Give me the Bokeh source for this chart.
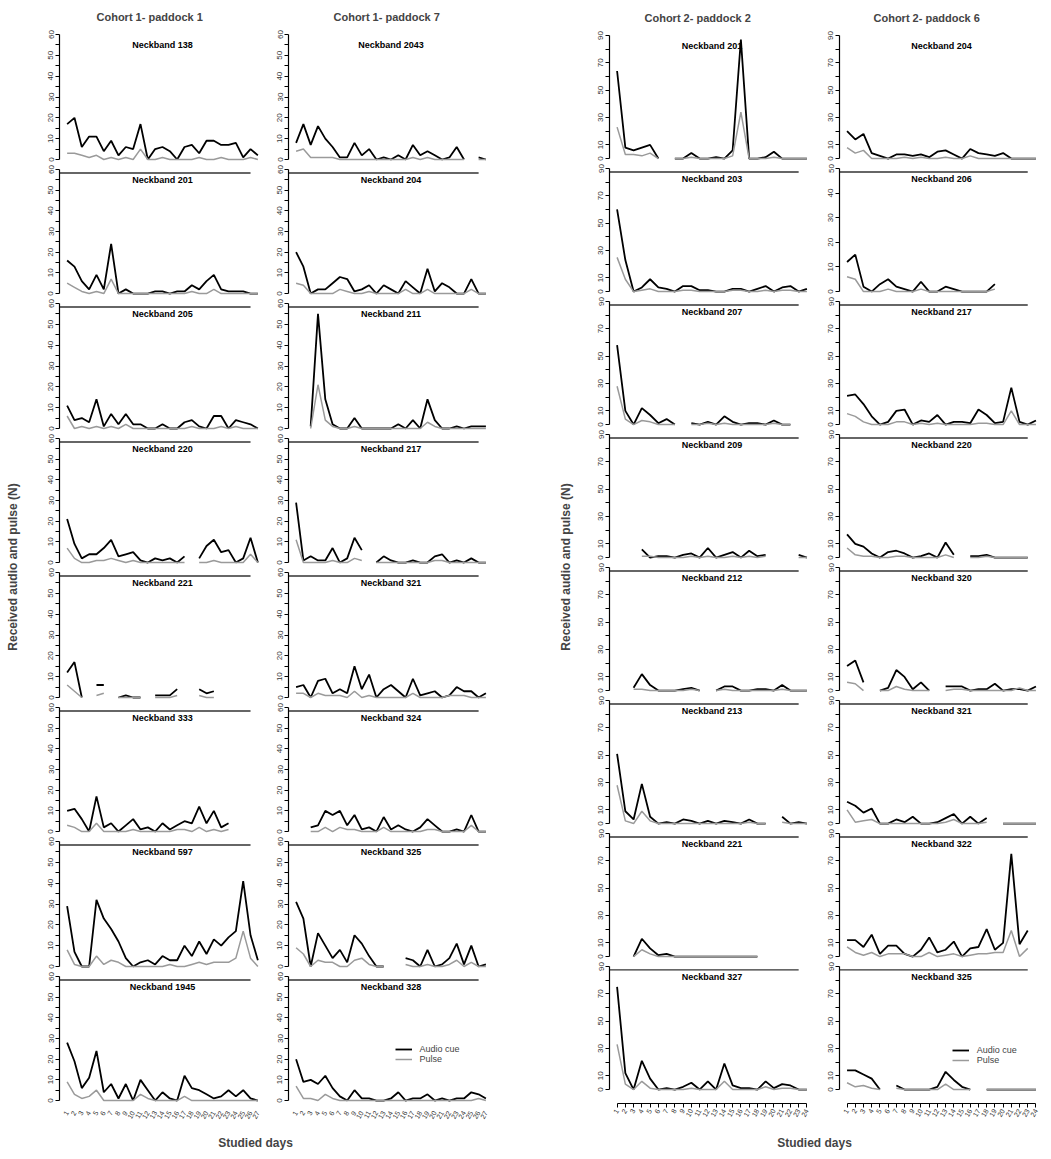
import math
from bokeh.plotting import figure
from bokeh.layouts import row, column
from bokeh.models import Range1d, FixedTicker, Legend, LegendItem, Title, Spacer
from bokeh.core.properties import value
from bokeh.embed import file_html
from bokeh.resources import INLINE

nan = float("nan")
FONT = "Liberation Sans"

# ---------------- data ----------------
days_c1 = list(range(1, 28))
days_c2 = list(range(1, 25))
xlabels_c1 = [str(d) for d in days_c1]
xlabels_c2 = [str(d) for d in days_c2]

# Cohort 1 - paddock 1
nb138_a = [17,20,6,11,11,4,9,2,6,5,17,0,5,6,4,0,6,7,3,9,9,7,7,8,1,5,2]
nb138_p = [3,3,2,1,2,0,1,0,1,0,5,0,0,1,0,0,0,0,1,0,0,1,0,0,0,1,0]
nb201_a = [16,13,6,2,9,2,24,0,2,0,0,0,1,1,0,1,1,4,2,6,9,2,1,1,1,0,0]
nb201_p = [5,3,1,0,1,0,7,0,0,0,0,0,0,0,0,0,0,1,0,0,2,0,0,0,0,0,0]
nb205_a = [11,4,5,3,14,1,7,2,7,2,2,0,0,2,0,0,3,4,1,0,6,6,0,4,3,2,0]
nb205_p = [6,0,1,0,1,0,1,0,2,0,0,0,0,0,0,0,0,1,0,0,0,1,0,1,0,0,0]
nb220_a = [21,9,2,4,4,7,11,3,4,5,1,0,2,1,2,0,3,nan,2,8,11,5,6,0,2,12,0]
nb220_p = [7,2,0,0,1,1,2,1,0,1,0,0,0,0,0,0,0,nan,0,0,1,0,0,0,0,4,0]
nb221_a = [12,17,0,nan,6,6,nan,0,1,0,0,nan,1,1,1,4,nan,nan,4,2,3,nan,nan,nan,nan,nan,nan]
nb221_p = [6,3,0,nan,1,2,nan,0,0,0,0,nan,0,0,0,1,nan,nan,1,0,0,nan,nan,nan,nan,nan,nan]
nb333_a = [10,11,6,0,17,2,4,0,3,6,1,2,0,4,1,3,5,4,12,4,10,2,4,nan,nan,nan,nan]
nb333_p = [3,2,0,0,4,0,0,0,0,1,0,0,0,0,0,1,1,0,2,0,1,0,1,nan,nan,nan,nan]
nb597_a = [29,7,0,0,32,23,18,12,4,0,2,3,1,5,3,3,10,5,12,6,13,10,14,17,41,15,3]
nb597_p = [8,1,0,0,5,1,3,2,0,0,0,0,0,0,1,0,0,1,2,1,2,2,2,4,17,4,0]
nb1945_a = [28,19,6,11,24,4,8,1,8,0,10,5,0,4,1,0,12,6,5,3,1,2,5,2,5,1,0]
nb1945_p = [9,3,1,2,5,0,0,0,0,0,3,1,0,0,0,0,2,0,0,0,0,0,0,0,0,0,0]

# Cohort 1 - paddock 7
nb2043_a = [8,17,7,16,10,6,1,1,8,2,5,0,1,0,2,0,7,2,4,2,0,1,6,0,nan,1,0]
nb2043_p = [4,5,1,1,1,1,0,0,0,0,0,0,0,0,0,0,1,0,1,0,0,0,0,0,nan,0,0]
nb204_a = [20,13,0,2,2,5,8,7,1,2,4,0,4,2,0,6,3,0,12,1,5,3,0,0,7,0,0]
nb204_p = [5,4,0,0,0,0,2,1,0,0,1,0,0,0,0,2,0,0,2,0,0,0,0,0,2,0,0]
nb211_a = [nan,nan,1,55,14,2,0,0,5,0,0,0,0,0,2,0,4,0,14,4,0,0,1,0,1,1,1]
nb211_p = [nan,nan,0,21,4,1,0,0,1,0,0,0,0,0,0,0,0,0,3,1,0,0,0,0,0,0,0]
nb217_a = [29,1,3,1,1,7,0,2,12,6,nan,0,3,1,0,0,1,0,0,3,4,0,1,0,2,0,0]
nb217_p = [11,0,0,0,0,1,0,0,2,1,nan,0,0,0,0,0,0,0,0,1,1,0,0,0,0,0,0]
nb321_a = [5,6,0,8,9,2,4,2,15,4,11,0,4,6,3,0,9,1,2,3,0,1,5,3,3,0,2]
nb321_p = [2,2,0,2,1,1,1,0,3,0,1,0,0,0,0,0,2,0,0,0,0,1,1,1,0,0,0]
nb324_a = [nan,nan,2,3,10,8,10,3,8,1,2,0,7,1,3,1,0,2,6,3,0,0,1,0,8,0,0]
nb324_p = [nan,nan,0,0,2,0,2,1,1,0,0,0,2,0,0,0,0,0,1,1,0,0,0,0,3,0,0]
nb325_a = [31,23,0,16,10,4,8,2,15,11,5,0,0,nan,nan,4,3,0,8,0,1,4,11,1,10,0,1]
nb325_p = [9,6,0,3,2,2,0,0,3,4,1,0,0,nan,nan,1,0,0,1,0,0,1,3,0,2,0,0]
nb328_a = [20,9,10,8,12,6,2,0,5,1,1,0,0,1,4,0,1,1,3,0,1,0,1,1,4,3,1]
nb328_p = [7,1,1,0,3,1,0,0,0,0,0,0,0,0,0,0,0,0,0,0,0,0,0,0,0,1,0]

# Cohort 2 - paddock 2
p2_201_a = [64,8,6,8,10,0,nan,0,0,4,0,0,1,0,6,87,0,0,1,5,0,0,0,0]
p2_201_p = [23,3,3,2,4,0,nan,0,0,1,0,0,0,0,2,34,0,0,0,1,0,0,0,0]
p2_203_a = [60,23,0,3,9,3,2,0,4,4,1,1,0,0,2,2,0,2,4,0,3,4,0,2]
p2_203_p = [25,9,0,1,2,0,0,0,1,1,0,0,0,0,1,1,0,0,1,0,1,1,0,0]
p2_207_a = [58,10,0,12,7,1,4,0,nan,1,0,2,0,6,2,0,1,1,0,3,0,0,nan,nan]
p2_207_p = [28,4,0,3,2,0,0,0,nan,0,0,1,0,1,0,0,0,0,0,1,0,0,nan,nan]
p2_209_a = [nan,nan,nan,6,0,1,1,0,2,3,0,7,0,2,4,0,5,1,2,nan,nan,nan,2,0]
p2_209_p = [nan,nan,nan,1,1,0,0,0,0,1,0,1,0,0,1,0,1,0,1,nan,nan,nan,0,0]
p2_212_a = [nan,nan,2,12,4,0,0,0,1,2,0,nan,0,3,3,0,0,1,1,0,4,0,0,0]
p2_212_p = [nan,nan,1,1,0,0,0,0,0,1,0,nan,0,1,0,0,0,0,0,0,1,0,0,0]
p2_213_a = [51,9,3,29,5,0,1,0,3,2,0,2,0,2,1,0,3,0,0,nan,5,0,1,0]
p2_213_p = [28,2,0,9,2,0,0,0,0,0,0,0,0,0,0,0,1,0,0,nan,1,0,0,0]
p2_221_a = [nan,nan,0,13,6,1,2,0,0,0,0,0,0,0,0,0,0,0,nan,nan,nan,nan,nan,nan]
p2_221_p = [nan,nan,0,5,2,0,0,0,0,0,0,0,0,0,0,0,0,0,nan,nan,nan,nan,nan,nan]
p2_327_a = [75,12,0,21,8,0,1,0,2,5,0,6,0,19,3,1,1,0,6,1,4,3,0,0]
p2_327_p = [33,4,0,6,1,0,0,0,0,1,0,0,0,6,0,0,0,0,2,0,1,1,0,0]

# Cohort 2 - paddock 6
p6_204_a = [20,14,18,4,2,0,3,3,2,3,1,5,6,3,0,7,4,3,2,4,0,0,0,0]
p6_204_p = [8,4,6,0,0,0,0,1,0,1,0,0,1,0,0,2,0,0,0,0,0,0,0,0]
p6_206_a = [12,15,2,0,3,5,2,1,0,4,0,0,2,1,0,0,0,0,3,nan,nan,nan,nan,nan]
p6_206_p = [6,5,0,0,0,1,0,0,0,1,0,0,0,0,0,0,0,0,1,nan,nan,nan,nan,nan]
p6_217_a = [21,22,15,6,0,2,10,11,0,3,2,7,0,2,2,1,11,7,1,2,27,2,0,3]
p6_217_p = [8,6,2,0,0,0,2,2,0,1,0,1,0,0,0,0,1,1,0,0,10,0,0,0]
p6_220_a = [17,10,8,3,0,4,5,3,0,1,3,0,11,2,nan,1,1,2,0,0,0,0,0,nan]
p6_220_p = [7,2,1,1,0,0,1,1,0,0,0,0,2,0,nan,0,0,1,0,0,0,0,0,nan]
p6_320_a = [18,22,6,nan,0,2,15,10,1,6,0,nan,3,3,3,0,1,1,5,0,1,1,0,3]
p6_320_p = [6,5,0,nan,0,0,3,1,0,0,0,nan,0,1,1,0,0,0,0,0,0,2,0,0]
p6_321_a = [16,13,8,11,0,0,3,1,5,0,0,1,4,7,0,5,0,4,nan,0,0,0,0,0]
p6_321_p = [10,1,2,3,0,0,0,0,0,0,0,0,1,3,0,0,0,1,nan,0,0,0,0,0]
p6_322_a = [12,12,7,16,2,8,8,2,0,5,14,3,5,11,0,6,7,20,5,10,75,9,19,nan]
p6_322_p = [7,3,1,3,0,2,2,2,0,0,3,0,1,2,0,1,2,2,3,3,19,0,6,nan]
p6_325_a = [14,14,11,8,0,nan,3,0,0,0,0,2,13,7,2,0,nan,0,0,0,0,0,0,0]
p6_325_p = [5,2,3,1,0,nan,1,0,0,0,0,0,4,0,0,0,nan,0,0,0,0,0,0,0]

headers = ["Cohort 1- paddock 1", "Cohort 1- paddock 7", "Cohort 2- paddock 2", "Cohort 2- paddock 6"]
header_offsets = [37, 45, 35, 34]

col_paddock1 = [("Neckband 138", nb138_a, nb138_p), ("Neckband 201", nb201_a, nb201_p),
                ("Neckband 205", nb205_a, nb205_p), ("Neckband 220", nb220_a, nb220_p),
                ("Neckband 221", nb221_a, nb221_p), ("Neckband 333", nb333_a, nb333_p),
                ("Neckband 597", nb597_a, nb597_p), ("Neckband 1945", nb1945_a, nb1945_p)]
col_paddock7 = [("Neckband 2043", nb2043_a, nb2043_p), ("Neckband 204", nb204_a, nb204_p),
                ("Neckband 211", nb211_a, nb211_p), ("Neckband 217", nb217_a, nb217_p),
                ("Neckband 321", nb321_a, nb321_p), ("Neckband 324", nb324_a, nb324_p),
                ("Neckband 325", nb325_a, nb325_p), ("Neckband 328", nb328_a, nb328_p)]
col_paddock2 = [("Neckband 201", p2_201_a, p2_201_p), ("Neckband 203", p2_203_a, p2_203_p),
                ("Neckband 207", p2_207_a, p2_207_p), ("Neckband 209", p2_209_a, p2_209_p),
                ("Neckband 212", p2_212_a, p2_212_p), ("Neckband 213", p2_213_a, p2_213_p),
                ("Neckband 221", p2_221_a, p2_221_p), ("Neckband 327", p2_327_a, p2_327_p)]
col_paddock6 = [("Neckband 204", p6_204_a, p6_204_p), ("Neckband 206", p6_206_a, p6_206_p),
                ("Neckband 217", p6_217_a, p6_217_p), ("Neckband 220", p6_220_a, p6_220_p),
                ("Neckband 320", p6_320_a, p6_320_p), ("Neckband 321", p6_321_a, p6_321_p),
                ("Neckband 322", p6_322_a, p6_322_p), ("Neckband 325", p6_325_a, p6_325_p)]

# y-axis scale per panel (top tick) for cohort 2, paddock 6 (Neckband 206 uses 0-50)
p6_ytops = [90, 50, 90, 90, 90, 90, 90, 90]

AUDIO_COLOR = "black"
PULSE_COLOR = "#9a9a9a"


def make_panel(name, days, xlabels, audio, pulse, ytop, ticks, labelled, fw, fh,
               borders, header=None, header_offset=0, first=False, xaxis=None,
               ystart=None, legend_at=None):
    xpad = 0.04 * (days[-1] - days[0])
    ypad = 0.04 * ytop
    y0 = -ypad if ystart is None else ystart
    y1 = ytop + ypad
    kw = {}
    if header:
        kw["title"] = header
    p = figure(frame_width=fw, frame_height=fh,
               x_range=Range1d(days[0] - xpad, days[-1] + xpad),
               y_range=Range1d(y0, y1),
               output_backend="svg", toolbar_location=None,
               min_border_left=borders[0], min_border_right=borders[1],
               min_border_top=borders[2], min_border_bottom=borders[3],
               x_axis_location="below" if xaxis else None,
               outline_line_color=None, **kw)
    p.grid.visible = False
    if header:
        p.title.align = "left"
        p.title.offset = header_offset
        p.title.text_font = FONT
        p.title.text_font_size = "11px"
        p.title.text_font_style = "bold"
        p.title.standoff = 14

    ax = p.yaxis[0]
    ax.ticker = FixedTicker(ticks=ticks)
    ax.major_label_overrides = {t: "" for t in ticks if t not in labelled}
    ax.bounds = (0, ytop)
    ax.major_label_orientation = "vertical"
    ax.major_tick_out = 4
    ax.major_tick_in = 0
    ax.minor_tick_line_color = None
    ax.major_label_text_font_size = "8px"
    ax.major_label_text_font = FONT
    ax.major_label_text_color = "#333333"
    ax.major_label_standoff = 2
    ax.axis_line_width = 1.2
    ax.major_tick_line_width = 1

    if xaxis:
        xa = p.xaxis[0]
        xa.ticker = FixedTicker(ticks=days)
        xa.major_label_overrides = {d: l for d, l in zip(days, xlabels)}
        xa.major_label_orientation = math.pi / 3
        xa.major_label_text_font_size = "7px"
        xa.major_label_text_font = FONT
        xa.major_label_text_color = "#333333"
        xa.minor_tick_line_color = None
        xa.bounds = (days[0], days[-1])
        if xaxis == "plain":
            xa.axis_line_color = None
            xa.major_tick_line_color = None
            xa.major_tick_out = 0
            xa.major_label_standoff = 6
        else:
            xa.major_tick_out = 4
            xa.major_tick_in = 0
            xa.major_label_standoff = 2

    upp = (y1 - y0) / fh
    p.text(x=[(days[0] + days[-1]) / 2], y=[ytop], text=[name],
           text_align="center", text_baseline="middle", y_offset=10.5,
           text_font=value(FONT), text_font_size="9px", text_font_style="bold",
           text_color="black")
    if not first:
        p.line([days[0] - xpad, days[-1] - 1], [ytop - 3.5 * upp, ytop - 3.5 * upp],
               line_color="#333333", line_width=1.4)

    ra = p.line(days, audio, line_color=AUDIO_COLOR, line_width=1.8)
    rp = p.line(days, pulse, line_color=PULSE_COLOR, line_width=1.5)

    if legend_at is not None:
        lx, ly_audio = legend_at
        px_x = (lx - (days[0] - xpad)) / ((days[-1] - days[0] + 2 * xpad) / fw)
        px_y = (ly_audio - y0) / upp - 15
        leg = Legend(items=[LegendItem(label="Audio cue", renderers=[ra]),
                            LegendItem(label="Pulse", renderers=[rp])],
                     location=(px_x, px_y), border_line_color=None,
                     background_fill_alpha=0, label_text_font=FONT,
                     label_text_font_size="9px", glyph_width=17, glyph_height=10,
                     label_height=10, spacing=0, padding=0, margin=0,
                     label_standoff=8)
        p.add_layout(leg)
    return p


def build_column(panels, days, xlabels, ytops, fw, heights, left, right, top, bottom,
                 header, header_offset, xaxis, ystart_last, legend_at, ticks_for, labels_for):
    figs = []
    n = len(panels)
    for i, (name, a, pl) in enumerate(panels):
        ytop = ytops[i]
        first = i == 0
        last = i == n - 1
        b = (left, right, top if first else 0, bottom if last else 0)
        f = make_panel(name, days, xlabels, a, pl, ytop, ticks_for(ytop), labels_for(ytop),
                       fw, heights[i], b, header=header if first else None,
                       header_offset=header_offset, first=first,
                       xaxis=xaxis if last else None,
                       ystart=ystart_last if last else None,
                       legend_at=legend_at if last else None)
        figs.append(f)
    return column(*figs, spacing=0)


def ticks_c1(ytop):
    return list(range(0, ytop + 1, 5))


def labels_c1(ytop):
    return list(range(0, ytop + 1, 10))


def ticks_c2(ytop):
    return list(range(0, ytop + 1, 10))


def labels_c2(ytop):
    if ytop == 90:
        return [0, 10, 30, 50, 70, 90]
    return list(range(0, ytop + 1, 10))


left_heights = [135, 134, 135, 134, 135, 134, 135, 134]
right_heights = [133] * 7 + [142]

col1 = build_column(col_paddock1, days_c1, xlabels_c1, [60] * 8, 206, left_heights,
                    37, 3, 29, 28, headers[0], header_offsets[0], "plain", None, None,
                    ticks_c1, labels_c1)
col2 = build_column(col_paddock7, days_c1, xlabels_c1, [60] * 8, 205, left_heights,
                    20, 5, 29, 28, headers[1], header_offsets[1], "plain", None,
                    (14.55, 24.5), ticks_c1, labels_c1)
col3 = build_column(col_paddock2, days_c2, xlabels_c2, [90] * 8, 205, right_heights,
                    34, 5, 30, 30, headers[2], header_offsets[2], "line", -10.2, None,
                    ticks_c2, labels_c2)
col4 = build_column(col_paddock6, days_c2, xlabels_c2, p6_ytops, 204, right_heights,
                    20, 0, 30, 30, headers[3], header_offsets[3], "line", -10.2,
                    (13.8, 28.5), ticks_c2, labels_c2)


def ytitle_fig(h):
    f = figure(frame_width=2, frame_height=h, min_border_left=20, min_border_right=0,
               min_border_top=0, min_border_bottom=0, toolbar_location=None,
               output_backend="svg", x_axis_location=None, y_axis_location=None,
               outline_line_color=None)
    f.grid.visible = False
    f.add_layout(Title(text="Received audio and pulse (N)", align="center",
                       text_font=FONT, text_font_size="12px", text_font_style="bold",
                       standoff=2), "left")
    return f


def xtitle_fig(w):
    f = figure(frame_width=w, frame_height=1, min_border_left=0, min_border_right=0,
               min_border_top=16, min_border_bottom=0, toolbar_location=None,
               output_backend="svg", x_axis_location=None, y_axis_location=None,
               outline_line_color=None, title="Studied days")
    f.grid.visible = False
    f.title.align = "center"
    f.title.text_font = FONT
    f.title.text_font_size = "12px"
    f.title.text_font_style = "bold"
    f.title.standoff = 0
    return f


top_row = row(ytitle_fig(1133), col1, col2, Spacer(width=55, height=10),
              ytitle_fig(1133), col3, col4, spacing=0)
bottom_row = row(Spacer(width=105, height=10), xtitle_fig(300), Spacer(width=259, height=10),
                 xtitle_fig(300), spacing=0)
page = column(top_row, bottom_row, spacing=0)

open("out.html", "w").write(file_html(page, INLINE))
